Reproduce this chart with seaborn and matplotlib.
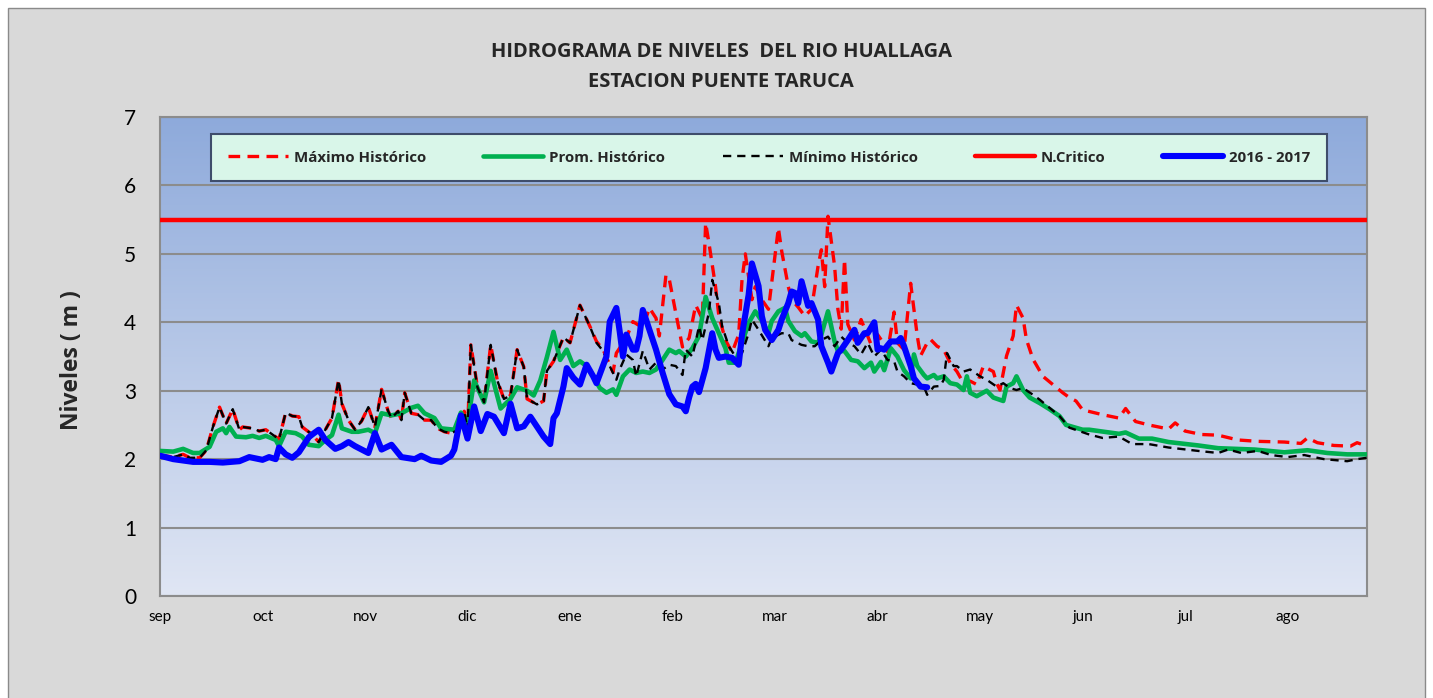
import numpy as np
import matplotlib
matplotlib.use("Agg")
from matplotlib import pyplot as plt
from matplotlib.patches import Rectangle
from matplotlib.colors import LinearSegmentedColormap
import seaborn as sns

# meses del año hidrologico (sep - ago)
meses = ["sep", "oct", "nov", "dic", "ene", "feb", "mar",
         "abr", "may", "jun", "jul", "ago"]

# Maximo historico (dia, nivel m)
dias_max = [0, 4, 7, 9, 12, 14, 16, 18, 20, 22, 24, 25, 28, 30, 32, 34, 36,
            38, 40, 42, 43, 46, 48, 50, 52, 54, 55, 57, 59, 61, 63, 65, 67,
            69, 70, 72, 73, 74, 76, 78, 80, 82, 84, 86, 88, 90, 92, 93, 94,
            96, 98, 100, 102, 104, 106, 108, 110, 111, 114, 116, 117, 119,
            122, 124, 127, 130, 132, 134, 137, 138, 141, 143, 146, 148, 150,
            151, 153, 154, 156, 158, 160, 162, 164, 165, 166, 168, 169, 171,
            173, 175, 176, 177, 179, 180, 182, 184, 187, 188, 190, 191, 193,
            195, 197, 199, 200, 201, 202, 204, 205, 206, 207, 208, 210, 212,
            215, 217, 219, 220, 222, 223, 225, 227, 229, 230, 232, 233, 235,
            237, 239, 241, 243, 245, 247, 249, 250, 252, 253, 254, 255, 256,
            258, 259, 261, 262, 264, 267, 270, 273, 275, 277, 279, 285, 290,
            292, 295, 299, 305, 307, 310, 315, 320, 326, 332, 340, 345, 347,
            350, 355, 360, 362, 365]
nivel_max = [2.06, 2.03, 2.07, 2.02, 2.02, 2.13, 2.47, 2.76, 2.52, 2.73,
             2.43, 2.47, 2.45, 2.41, 2.43, 2.36, 2.29, 2.68, 2.63, 2.62,
             2.47, 2.36, 2.25, 2.43, 2.60, 3.16, 2.81, 2.57, 2.43, 2.56,
             2.76, 2.47, 3.02, 2.70, 2.60, 2.70, 2.57, 2.97, 2.67, 2.65,
             2.57, 2.57, 2.45, 2.40, 2.38, 2.42, 2.70, 2.43, 3.67, 3.05,
             2.83, 3.67, 3.15, 2.88, 2.93, 3.60, 3.35, 2.88, 2.80, 2.85,
             3.29, 3.43, 3.78, 3.70, 4.25, 3.94, 3.72, 3.60, 3.27, 3.55,
             3.77, 4.01, 3.92, 4.21, 4.06, 3.80, 4.69, 4.63, 4.13, 3.64,
             3.77, 4.25, 4.05, 5.45, 5.16, 4.52, 4.09, 3.74, 3.56, 3.82,
             4.62, 5.00, 4.33, 4.52, 4.33, 4.19, 5.38, 5.04, 4.52, 4.33,
             4.22, 4.09, 4.19, 4.82, 5.06, 4.52, 5.55, 4.82, 4.19, 3.90,
             4.92, 3.97, 3.74, 4.04, 3.68, 3.82, 3.68, 3.57, 4.15, 3.70,
             3.60, 4.57, 3.80, 3.51, 3.70, 3.75, 3.65, 3.60, 3.40, 3.28,
             3.11, 3.14, 3.09, 3.36, 3.33, 3.28, 3.11, 3.01, 3.26, 3.51,
             3.80, 4.25, 4.06, 3.75, 3.46, 3.21, 3.09, 2.97, 2.90, 2.85,
             2.72, 2.65, 2.60, 2.74, 2.55, 2.50, 2.44, 2.53, 2.41, 2.36,
             2.35, 2.28, 2.26, 2.25, 2.23, 2.31, 2.24, 2.20, 2.19, 2.24,
             2.19]

# Promedio historico
dias_prom = [0, 4, 7, 10, 12, 15, 17, 19, 20, 21, 23, 26, 28, 30, 32, 35,
             36, 38, 41, 43, 45, 48, 50, 52, 54, 55, 58, 60, 63, 65, 67, 70,
             73, 76, 78, 80, 83, 85, 89, 91, 93, 95, 98, 100, 103, 106, 108,
             111, 113, 115, 117, 119, 121, 123, 125, 127, 129, 131, 133, 135,
             137, 138, 140, 142, 144, 146, 148, 150, 152, 154, 156, 157, 159,
             161, 163, 165, 167, 169, 171, 172, 174, 176, 178, 180, 182, 184,
             185, 187, 189, 190, 192, 194, 195, 197, 199, 200, 202, 204, 205,
             207, 209, 211, 213, 215, 216, 218, 219, 221, 223, 225, 227, 228,
             229, 231, 232, 234, 235, 237, 239, 241, 243, 244, 245, 247, 250,
             252, 255, 256, 258, 259, 261, 263, 266, 269, 272, 274, 279, 281,
             290, 292, 296, 300, 305, 314, 320, 331, 340, 347, 353, 359, 365]
nivel_prom = [2.12, 2.11, 2.15, 2.09, 2.09, 2.18, 2.40, 2.45, 2.38, 2.47,
              2.33, 2.32, 2.34, 2.31, 2.34, 2.28, 2.19, 2.40, 2.38, 2.33,
              2.21, 2.19, 2.28, 2.35, 2.65, 2.45, 2.40, 2.40, 2.43, 2.38,
              2.67, 2.64, 2.67, 2.75, 2.78, 2.67, 2.60, 2.45, 2.43, 2.68,
              2.52, 3.15, 2.83, 3.29, 2.74, 2.88, 3.05, 3.00, 2.93, 3.15,
              3.49, 3.86, 3.45, 3.60, 3.36, 3.43, 3.36, 3.21, 3.04, 2.97,
              3.02, 2.94, 3.21, 3.31, 3.26, 3.28, 3.26, 3.31, 3.45, 3.60,
              3.55, 3.58, 3.50, 3.62, 3.80, 4.37, 4.06, 3.84, 3.62, 3.41,
              3.41, 3.70, 3.99, 4.16, 4.02, 3.84, 4.02, 4.16, 4.21, 4.02,
              3.87, 3.80, 3.84, 3.72, 3.70, 3.82, 4.16, 3.72, 3.58, 3.58,
              3.45, 3.43, 3.33, 3.41, 3.28, 3.42, 3.30, 3.62, 3.50, 3.30,
              3.18, 3.53, 3.36, 3.23, 3.18, 3.23, 3.18, 3.21, 3.11, 3.09,
              3.01, 3.21, 2.97, 2.92, 3.00, 2.90, 2.85, 3.06, 3.11, 3.21,
              3.01, 2.90, 2.82, 2.73, 2.63, 2.50, 2.43, 2.43, 2.37, 2.39,
              2.30, 2.30, 2.25, 2.20, 2.16, 2.14, 2.10, 2.13, 2.09, 2.07,
              2.07]

# Minimo historico
dias_min = [0, 4, 7, 9, 12, 14, 16, 18, 20, 22, 24, 25, 28, 30, 32, 34, 36,
            38, 40, 42, 43, 46, 48, 50, 52, 54, 55, 57, 59, 61, 63, 65, 67,
            69, 70, 72, 73, 74, 76, 78, 80, 82, 84, 86, 88, 90, 92, 93, 94,
            96, 98, 100, 102, 104, 106, 108, 110, 111, 114, 116, 117, 119,
            122, 124, 127, 130, 132, 134, 136, 138, 139, 141, 143, 144, 146,
            148, 150, 152, 154, 156, 158, 159, 161, 163, 164, 166, 167, 169,
            170, 172, 174, 176, 178, 179, 181, 184, 185, 188, 190, 191, 194,
            196, 198, 200, 202, 204, 206, 208, 210, 212, 214, 216, 218, 220,
            222, 223, 225, 227, 229, 231, 232, 234, 236, 237, 238, 240, 241,
            243, 245, 248, 250, 253, 255, 257, 259, 261, 264, 266, 269, 272,
            275, 281, 285, 290, 294, 299, 305, 314, 320, 323, 327, 332, 336,
            341, 346, 352, 359, 362, 365]
nivel_min = [2.06, 2.03, 2.07, 2.02, 2.02, 2.13, 2.47, 2.76, 2.52, 2.73,
             2.43, 2.47, 2.45, 2.41, 2.43, 2.36, 2.29, 2.68, 2.63, 2.62,
             2.47, 2.36, 2.25, 2.43, 2.60, 3.16, 2.81, 2.57, 2.43, 2.56,
             2.76, 2.47, 3.02, 2.70, 2.60, 2.70, 2.57, 2.97, 2.67, 2.65,
             2.57, 2.57, 2.45, 2.40, 2.38, 2.42, 2.70, 2.43, 3.67, 3.05,
             2.83, 3.67, 3.15, 2.88, 2.93, 3.60, 3.35, 2.88, 2.80, 2.85,
             3.29, 3.43, 3.78, 3.70, 4.25, 3.94, 3.70, 3.58, 3.36, 3.16,
             3.31, 3.53, 3.45, 3.21, 3.58, 3.31, 3.41, 3.31, 3.38, 3.36,
             3.23, 3.60, 3.50, 3.94, 3.74, 4.14, 4.62, 4.28, 3.94, 3.65,
             3.50, 3.55, 3.84, 4.04, 3.89, 3.65, 3.77, 3.84, 3.84, 3.74,
             3.67, 3.65, 3.65, 3.74, 3.79, 3.65, 3.79, 3.70, 3.65, 3.53,
             3.70, 3.50, 3.60, 3.45, 3.43, 3.28, 3.21, 3.11, 3.09, 3.06,
             2.94, 3.06, 3.07, 3.16, 3.55, 3.36, 3.36, 3.28, 3.31, 3.21,
             3.16, 3.06, 3.11, 3.04, 3.01, 3.04, 2.94, 2.87, 2.75, 2.63,
             2.46, 2.36, 2.31, 2.33, 2.22, 2.22, 2.17, 2.12, 2.09, 2.14,
             2.09, 2.12, 2.06, 2.03, 2.06, 2.00, 1.97, 2.00, 2.02]

# Nivel critico
dias_critico = [0, 365]
nivel_critico = [5.5, 5.5]

# Año 2016 - 2017
dias_2016 = [0, 4, 10, 15, 19, 24, 27, 31, 33, 35, 36, 38, 40, 42, 45, 46,
             48, 50, 53, 55, 57, 59, 63, 65, 67, 70, 73, 77, 79, 82, 85, 88,
             89, 91, 93, 95, 97, 99, 101, 104, 106, 108, 110, 112, 116, 118,
             119, 120, 122, 123, 125, 127, 129, 131, 132, 135, 136, 138, 139,
             140, 141, 143, 144, 145, 146, 148, 150, 152, 154, 156, 158, 159,
             160, 161, 162, 163, 165, 167, 168, 169, 171, 173, 175, 176, 178,
             179, 181, 182, 183, 185, 187, 188, 190, 191, 192, 193, 194, 196,
             197, 199, 200, 202, 203, 205, 206, 208, 210, 211, 213, 214, 216,
             217, 218, 219, 221, 223, 224, 225, 227, 228, 230, 232]
nivel_2016 = [2.05, 2.00, 1.96, 1.96, 1.95, 1.97, 2.03, 1.99, 2.03, 2.00,
              2.17, 2.07, 2.02, 2.10, 2.32, 2.36, 2.43, 2.28, 2.15, 2.19,
              2.25, 2.19, 2.09, 2.38, 2.14, 2.21, 2.03, 2.00, 2.05, 1.98,
              1.96, 2.05, 2.14, 2.64, 2.30, 2.77, 2.41, 2.66, 2.62, 2.38,
              2.81, 2.45, 2.48, 2.62, 2.33, 2.22, 2.60, 2.67, 3.06, 3.33,
              3.19, 3.09, 3.38, 3.21, 3.11, 3.50, 4.01, 4.21, 3.87, 3.50,
              3.82, 3.60, 3.60, 3.80, 4.18, 3.89, 3.60, 3.26, 2.95, 2.80,
              2.77, 2.70, 2.90, 3.06, 3.10, 2.98, 3.33, 3.84, 3.60, 3.48,
              3.50, 3.48, 3.38, 3.82, 4.40, 4.86, 4.53, 4.09, 3.89, 3.74,
              3.89, 4.04, 4.28, 4.45, 4.43, 4.28, 4.60, 4.24, 4.28, 4.04,
              3.65, 3.41, 3.28, 3.55, 3.60, 3.74, 3.89, 3.70, 3.84, 3.84,
              4.00, 3.60, 3.62, 3.60, 3.72, 3.72, 3.77, 3.65, 3.36, 3.18,
              3.06, 3.05]

sns.set_theme(style="white")
plt.rcParams["font.family"] = ["Lato", "DejaVu Sans"]
negrita = ["Open Sans", "DejaVu Sans"]

W, H = 1433, 698
fig = plt.figure(figsize=(W / 100, H / 100), dpi=100, facecolor="white")
# marco gris del grafico
fig.patches.append(Rectangle((8 / W, -0.01), (1425 - 8) / W, 1 - 8 / H + 0.01,
                             transform=fig.transFigure, facecolor="#d9d9d9",
                             edgecolor="#8a8a8a", linewidth=1, zorder=-10))
ax = fig.add_axes([160 / W, 102 / H, 1207 / W, 479 / H])

# fondo degradado del area de trazado
grad = np.linspace(0, 1, 256).reshape(-1, 1)
fondo = LinearSegmentedColormap.from_list("fondo", ["#e0e6f4", "#8eaadb"])
ax.imshow(grad, extent=[0, 365, 0, 7], origin="lower", aspect="auto",
          cmap=fondo, zorder=0)

sns.lineplot(x=dias_max, y=nivel_max, ax=ax, color="#ff0000", linewidth=2.4,
             linestyle=(0, (3.5, 2.2)), label="Máximo Histórico", zorder=3)
sns.lineplot(x=dias_prom, y=nivel_prom, ax=ax, color="#00b050",
             linewidth=3.3, label="Prom. Histórico", zorder=4)
sns.lineplot(x=dias_min, y=nivel_min, ax=ax, color="black", linewidth=1.7,
             linestyle=(0, (3.5, 2.5)), label="Mínimo Histórico", zorder=5)
sns.lineplot(x=dias_critico, y=nivel_critico, ax=ax, color="#ff0000",
             linewidth=3.2, label="N.Critico", zorder=6)
sns.lineplot(x=dias_2016, y=nivel_2016, ax=ax, color="#0000ff",
             linewidth=4.4, label="2016 - 2017", zorder=7)

ax.set_xlim(0, 365)
ax.set_ylim(0, 7)
ax.set_xticks(np.arange(12) * 31)
ax.set_xticklabels(meses)
ax.set_yticks(range(8))
ax.set_xlabel("")
ax.set_ylabel("")
ax.grid(axis="y", color="#8c8c8c", linewidth=1.5)
ax.grid(axis="x", visible=False)
ax.set_axisbelow(True)
for s in ax.spines.values():
    s.set_color("#8c8c8c")
    s.set_linewidth(1.5)
ax.tick_params(axis="y", length=0, pad=17, labelsize=15, colors="black")
ax.tick_params(axis="x", length=0, pad=10, labelsize=11, colors="black")

leg = ax.legend(loc="center", bbox_to_anchor=(0.0423, 0.860, 0.9246, 0.1106),
                mode="expand", ncol=5, frameon=True, fancybox=False,
                prop={"family": negrita, "weight": "bold", "size": 10.8},
                handlelength=4.0, handletextpad=0.4, borderpad=1.1,
                borderaxespad=0)
leg.get_frame().set_facecolor("#d9f6e9")
leg.get_frame().set_edgecolor("#3f4d6b")
leg.get_frame().set_linewidth(1.5)
leg.get_frame().set_alpha(1)
leg.set_zorder(10)

fig.text(721 / W, 1 - 52 / H, "HIDROGRAMA DE NIVELES  DEL RIO HUALLAGA",
         ha="center", va="center", fontsize=14.5, fontweight="bold",
         family=negrita)
fig.text(721 / W, 1 - 82 / H, "ESTACION PUENTE TARUCA",
         ha="center", va="center", fontsize=14.5, fontweight="bold",
         family=negrita)
fig.text(72 / W, 1 - 360 / H, "Niveles ( m )", rotation=90, ha="center",
         va="center", fontsize=16.5, fontweight="bold", family=negrita)

fig.savefig("out.png", dpi=100, facecolor=fig.get_facecolor())
